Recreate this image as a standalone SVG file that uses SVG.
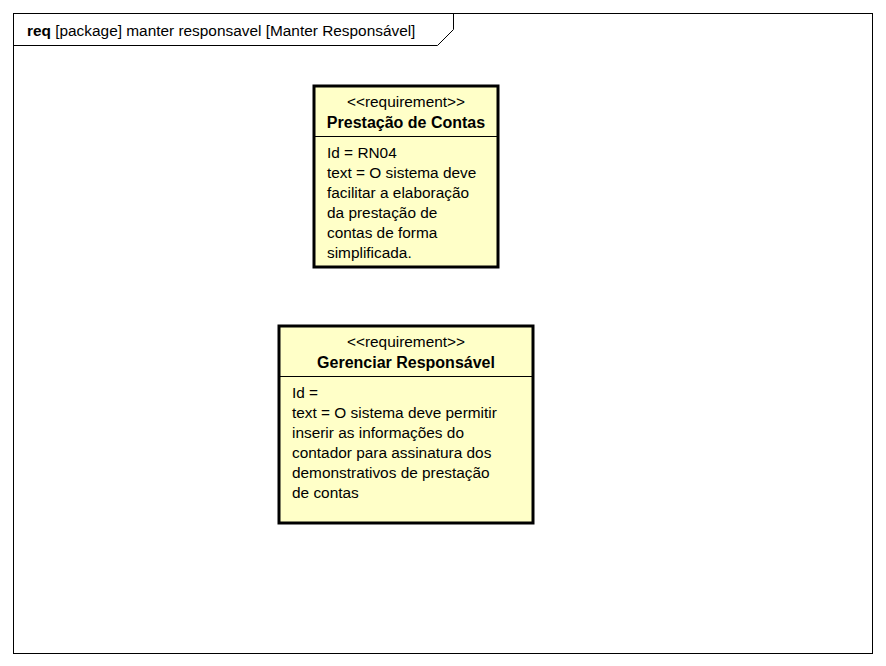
<svg xmlns="http://www.w3.org/2000/svg" width="886" height="666" viewBox="0 0 886 666">
<style>
text{font-family:"Liberation Sans",Arial,sans-serif;font-size:15.4px;fill:#000}
.b{font-weight:bold;font-size:16px}
.m{text-anchor:middle}
.box{fill:#ffffc8;stroke:#000;stroke-width:3}
.ln{stroke:#000;stroke-width:1;fill:none}
</style>
<rect width="886" height="666" fill="#fff"/>
<g id="frame">
<rect x="13.5" y="13.5" width="859" height="640" class="ln"/>
<path d="M13.5 45.5 H437.5 L453.5 29.5 V13.5" class="ln"/>
<text x="27" y="36"><tspan class="b" style="font-size:15.4px">req</tspan> [package] manter responsavel [Manter Responsável]</text>
</g>
<g id="prestacao">
<rect x="314" y="86" width="184" height="181" class="box"/>
<line x1="314" y1="136.5" x2="498" y2="136.5" class="ln"/>
<text x="406" y="107" class="m">&lt;&lt;requirement&gt;&gt;</text>
<text x="406" y="128" class="m b">Prestação de Contas</text>
<text x="327" y="158">Id = RN04</text>
<text x="327" y="178">text = O sistema deve</text>
<text x="327" y="198">facilitar a elaboração</text>
<text x="327" y="218">da prestação de</text>
<text x="327" y="238">contas de forma</text>
<text x="327" y="258">simplificada.</text>
</g>
<g id="gerenciar">
<rect x="279" y="326" width="254" height="197" class="box"/>
<line x1="279" y1="376.5" x2="533" y2="376.5" class="ln"/>
<text x="406" y="347" class="m">&lt;&lt;requirement&gt;&gt;</text>
<text x="406" y="368" class="m b">Gerenciar Responsável</text>
<text x="292" y="398">Id =</text>
<text x="292" y="418">text = O sistema deve permitir</text>
<text x="292" y="438">inserir as informações do</text>
<text x="292" y="458">contador para assinatura dos</text>
<text x="292" y="478">demonstrativos de prestação</text>
<text x="292" y="498">de contas</text>
</g>
<g id="connectors"></g>
</svg>
